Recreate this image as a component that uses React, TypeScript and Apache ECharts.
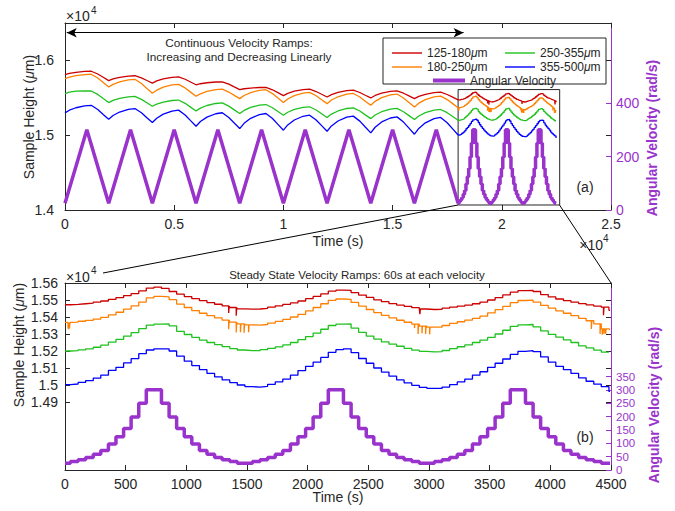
import React, { useEffect, useRef } from "react";
import * as echarts from "echarts";

const FONT = "'Liberation Sans', Arial, Helvetica, sans-serif";
const PURPLE = "#9933cc";
const RED = "#cc0000";
const ORANGE = "#ff8000";
const GREEN = "#1fc21f";
const BLUE = "#0000ff";
const INK = "#262626";

// ---------- (a) continuous ramps, time in s (axis shows x10^4) ----------
const TOP_T = [
  0, 200, 500, 900, 1200, 1500, 1750,
  2000, 2200, 2500, 2900, 3200, 3500, 3750,
  4000, 4200, 4500, 4900, 5200, 5500, 5750,
  6000, 6200, 6500, 6900, 7200, 7500, 7750,
  8000, 8200, 8500, 8900, 9200, 9500, 9750,
  10000, 10200, 10500, 10900, 11200, 11500, 11750,
  12000, 12200, 12500, 12900, 13200, 13500, 13750,
  14000, 14200, 14500, 14900, 15200, 15500, 15750,
  16000, 16200, 16500, 16900, 17200, 17500, 17750,
  18000,
];
const TOP_RED = [
  1.581, 1.5826, 1.5841, 1.5852, 1.5855, 1.5818, 1.5774,
  1.573, 1.5753, 1.5774, 1.579, 1.5795, 1.5766, 1.5731,
  1.5697, 1.5726, 1.5753, 1.5774, 1.578, 1.5748, 1.5711,
  1.5674, 1.5688, 1.5701, 1.5711, 1.5714, 1.5683, 1.5646,
  1.561, 1.5621, 1.563, 1.5638, 1.564, 1.5607, 1.5569,
  1.553, 1.556, 1.5588, 1.5609, 1.5615, 1.5584, 1.5547,
  1.5511, 1.5543, 1.5573, 1.5596, 1.5602, 1.5571, 1.5534,
  1.5498, 1.5531, 1.5562, 1.5585, 1.5592, 1.5561, 1.5525,
  1.5489, 1.5519, 1.5547, 1.5569, 1.5575, 1.5544, 1.5508,
  1.5472,
];
const TOP_ORANGE = [
  1.5756, 1.5777, 1.5796, 1.5811, 1.5815, 1.5764, 1.5704,
  1.5644, 1.568, 1.5714, 1.574, 1.5747, 1.5691, 1.5625,
  1.556, 1.5602, 1.5642, 1.5672, 1.568, 1.5632, 1.5576,
  1.552, 1.5553, 1.5585, 1.5608, 1.5615, 1.5577, 1.5533,
  1.5489, 1.5531, 1.557, 1.56, 1.5608, 1.5556, 1.5496,
  1.5436, 1.5484, 1.5528, 1.5562, 1.5572, 1.5527, 1.5475,
  1.5422, 1.547, 1.5514, 1.5548, 1.5558, 1.5511, 1.5455,
  1.54, 1.5453, 1.5502, 1.554, 1.555, 1.5498, 1.5438,
  1.5378, 1.5428, 1.5476, 1.5512, 1.5522, 1.5476, 1.5422,
  1.5368,
];
const TOP_GREEN = [
  1.5556, 1.5575, 1.5589, 1.5591, 1.5591, 1.5545, 1.549,
  1.5436, 1.5465, 1.5492, 1.5512, 1.5518, 1.5479, 1.5433,
  1.5387, 1.5416, 1.5443, 1.5464, 1.547, 1.5426, 1.5375,
  1.5324, 1.5362, 1.5397, 1.5424, 1.5432, 1.5389, 1.5339,
  1.5289, 1.5331, 1.5371, 1.5402, 1.541, 1.5367, 1.5317,
  1.5267, 1.5307, 1.5344, 1.5372, 1.538, 1.5337, 1.5286,
  1.5236, 1.5282, 1.5324, 1.5357, 1.5366, 1.5323, 1.5272,
  1.5222, 1.527, 1.5314, 1.5348, 1.5358, 1.5314, 1.5262,
  1.521, 1.5257, 1.5301, 1.5335, 1.5344, 1.5301, 1.525,
  1.52,
];
const TOP_BLUE = [
  1.5298, 1.5334, 1.5367, 1.5393, 1.54, 1.5344, 1.5278,
  1.5213, 1.5263, 1.531, 1.5346, 1.5356, 1.53, 1.5234,
  1.5169, 1.5227, 1.5282, 1.5323, 1.5335, 1.5271, 1.5195,
  1.512, 1.5183, 1.5242, 1.5287, 1.53, 1.5237, 1.5163,
  1.5089, 1.5159, 1.5226, 1.5276, 1.529, 1.5223, 1.5145,
  1.5067, 1.5137, 1.5203, 1.5253, 1.5267, 1.5203, 1.5128,
  1.5053, 1.5124, 1.519, 1.5241, 1.5255, 1.5188, 1.5109,
  1.5031, 1.5106, 1.5177, 1.523, 1.5245, 1.5175, 1.5094,
  1.5013, 1.5091, 1.5165, 1.5221, 1.5237, 1.5167, 1.5084,
  1.5002,
];
const TOP_VEL_T = [0, 1000, 2000, 3000, 4000, 5000, 6000, 7000, 8000, 9000, 10000, 11000, 12000, 13000, 14000, 15000, 16000, 17000, 18000];
const TOP_VEL = [25, 300, 25, 300, 25, 300, 25, 300, 25, 300, 25, 300, 25, 300, 25, 300, 25, 300, 25];

// ---------- (b) steady state ramps: step start times (s) ----------
const STEADY_OFFSET = 18000; // where (b) sits inside (a)
const STEP_END = 4492;
const STEP_T = [
  0, 45, 108, 170, 233, 295, 358, 420, 483, 545, 608, 670, 733, 795, 858, 920, 983, 1045, 1108, 1170, 1233, 1295, 1358, 1420, 1483,
  1545, 1608, 1670, 1733, 1795, 1858, 1920, 1983, 2045, 2108, 2170, 2233, 2295, 2358, 2420, 2483, 2545, 2608, 2670, 2733, 2795, 2858, 2920, 2983,
  3045, 3108, 3170, 3233, 3295, 3358, 3420, 3483, 3545, 3608, 3670, 3733, 3795, 3858, 3920, 3983, 4045, 4108, 4170, 4233, 4295, 4358, 4420, 4483,
];
const VEL = [
  25, 32, 38, 47, 59, 73, 97, 124, 155, 198, 250, 300, 300, 250, 198, 155, 124, 97, 73, 59, 47, 38, 32, 25, 25,
  32, 38, 47, 59, 73, 97, 124, 155, 198, 250, 300, 300, 250, 198, 155, 124, 97, 73, 59, 47, 38, 32, 25, 25,
  32, 38, 47, 59, 73, 97, 124, 155, 198, 250, 300, 300, 250, 198, 155, 124, 97, 73, 59, 47, 38, 32, 25, 25,
];
const H_RED = [
  1.5472, 1.5474, 1.5478, 1.5482, 1.5488, 1.5494, 1.5504, 1.5514, 1.5526, 1.5538, 1.5554, 1.557, 1.5576, 1.5568, 1.555, 1.5534, 1.552, 1.5508, 1.5496, 1.5485, 1.5475, 1.5465, 1.5456, 1.5448, 1.5446,
  1.5447, 1.5451, 1.5458, 1.5466, 1.5474, 1.5483, 1.5494, 1.5508, 1.5521, 1.5536, 1.5552, 1.5558, 1.5557, 1.5543, 1.5529, 1.5515, 1.5501, 1.549, 1.5479, 1.547, 1.5463, 1.5455, 1.5447, 1.5444,
  1.5445, 1.5452, 1.5458, 1.5464, 1.547, 1.5478, 1.5488, 1.55, 1.5514, 1.553, 1.5546, 1.5555, 1.5556, 1.555, 1.5532, 1.5518, 1.5506, 1.5496, 1.5487, 1.5479, 1.5471, 1.5464, 1.5458, 1.5439,
];
const H_ORANGE = [
  1.5368, 1.537, 1.5375, 1.538, 1.5388, 1.5398, 1.5412, 1.5428, 1.5446, 1.5466, 1.5488, 1.5512, 1.5521, 1.5518, 1.5502, 1.5476, 1.5456, 1.5437, 1.5422, 1.5408, 1.5395, 1.5382, 1.537, 1.536, 1.5354,
  1.5352, 1.5356, 1.5364, 1.5374, 1.5386, 1.54, 1.5416, 1.5436, 1.5456, 1.5478, 1.5498, 1.5506, 1.5504, 1.5486, 1.5464, 1.5444, 1.5426, 1.541, 1.5395, 1.5381, 1.5369, 1.5358, 1.5346, 1.534,
  1.534, 1.535, 1.5362, 1.5372, 1.5382, 1.5392, 1.5405, 1.5424, 1.5443, 1.5462, 1.5484, 1.5497, 1.5499, 1.5488, 1.5468, 1.5452, 1.5436, 1.5422, 1.5408, 1.5392, 1.5378, 1.536, 1.533, 1.5326,
];
const H_GREEN = [
  1.52, 1.5202, 1.5207, 1.5213, 1.5222, 1.5234, 1.5252, 1.5268, 1.5288, 1.5308, 1.5332, 1.5352, 1.5358, 1.5359, 1.5348, 1.5316, 1.5297, 1.528, 1.5264, 1.525, 1.5238, 1.5226, 1.5214, 1.5206, 1.5202,
  1.5203, 1.5208, 1.5215, 1.5224, 1.5236, 1.525, 1.5267, 1.5285, 1.5305, 1.5328, 1.535, 1.5358, 1.5359, 1.5335, 1.531, 1.5288, 1.527, 1.5254, 1.524, 1.5228, 1.5215, 1.5205, 1.5198, 1.5195,
  1.5196, 1.5203, 1.5214, 1.5225, 1.5236, 1.525, 1.5264, 1.528, 1.53, 1.5322, 1.5345, 1.5354, 1.5356, 1.5342, 1.5318, 1.5298, 1.5282, 1.5265, 1.525, 1.523, 1.5218, 1.5205, 1.5193, null,
];
const H_BLUE = [
  1.5002, 1.5006, 1.5015, 1.5026, 1.5041, 1.5058, 1.5086, 1.5104, 1.513, 1.5155, 1.5184, 1.5206, 1.5213, 1.5213, 1.52, 1.517, 1.514, 1.5114, 1.509, 1.5068, 1.5048, 1.503, 1.5014, 1.5, 1.499,
  1.4988, 1.4992, 1.5004, 1.5018, 1.5035, 1.5058, 1.5085, 1.511, 1.5134, 1.5162, 1.5192, 1.5208, 1.5213, 1.519, 1.5156, 1.5128, 1.51, 1.5076, 1.5052, 1.503, 1.5012, 1.4998, 1.4986, 1.498,
  1.498, 1.4988, 1.5002, 1.5018, 1.5035, 1.5058, 1.5078, 1.5104, 1.5128, 1.5153, 1.518, 1.5198, 1.5202, 1.5196, 1.5165, 1.5135, 1.511, 1.509, 1.5068, 1.5042, 1.5022, 1.5005, 1.499, 1.4962,
];
// short downward spikes: [time, value]
const RED_SPIKES = [[1349, 1.5424], [1411, 1.5408], [2925, 1.5417], [4438, 1.541]];
const ORANGE_SPIKES = [
  [25, 1.5332], [31, 1.5328], [37, 1.5334], [1349, 1.5328], [1411, 1.5309], [1446, 1.531], [1476, 1.5308], [1513, 1.5311],
  [2880, 1.5335], [2910, 1.53], [2942, 1.5305], [2972, 1.53], [3005, 1.5298],
  [4338, 1.533], [4410, 1.53], [4428, 1.5296], [4442, 1.53], [4456, 1.5302],
];

const NAMES = ["125-180μm", "180-250μm", "250-355μm", "355-500μm"];
const X_TICK_TOP = [0, 0.5, 1, 1.5, 2, 2.5];

function stepData(offset: number, values: (number | null)[], spikes: number[][]) {
  const pts: any[] = STEP_T.map((t, i) => [offset + t, values[i]]);
  const last = values[values.length - 1];
  if (last !== null) pts.push([offset + STEP_END, last]);
  for (const [ts, vs] of spikes) {
    let k = 0;
    while (k + 1 < STEP_T.length && STEP_T[k + 1] <= ts) k++;
    pts.push([offset + ts, vs], [offset + ts + 4, values[k]]);
  }
  pts.sort((a, b) => a[0] - b[0]);
  return pts;
}
const pairs = (xs: number[], ys: number[]) => xs.map((x, i) => [x, ys[i]]);

const tickLabel = { fontSize: 14, color: INK, fontFamily: FONT, hideOverlap: false, showMinLabel: true, showMaxLabel: true };

function txt(text: string, x: number, y: number, extra: any = {}, rotation = 0) {
  return {
    type: "text", x, y, rotation, silent: true, z: 10,
    style: { text, fontSize: 14, fontFamily: FONT, fill: INK, align: "center", verticalAlign: "middle", ...extra },
  };
}
const italicRich = (size: number, fill: string) => ({ i: { fontStyle: "italic", fontSize: size, fontFamily: FONT, fill } });

export default function App() {
  const ref = useRef<HTMLDivElement>(null);
  useEffect(() => {
    if (!ref.current) return;
    const chart = echarts.init(ref.current, null, { renderer: "svg" });
    const heightColors = [RED, ORANGE, GREEN, BLUE];
    const topHeights = [TOP_RED, TOP_ORANGE, TOP_GREEN, TOP_BLUE];
    const botHeights = [H_RED, H_ORANGE, H_GREEN, H_BLUE];
    const spikes = [RED_SPIKES, ORANGE_SPIKES, [], []];

    const series: any[] = [];
    heightColors.forEach((c, k) => {
      const base = {
        name: NAMES[k], type: "line", symbol: "none", color: c,
        lineStyle: { width: 1.3, color: c }, silent: true,
      };
      const first: any = { ...base, xAxisIndex: 0, yAxisIndex: 0, data: pairs(TOP_T, topHeights[k]) };
      if (k === 0) {
        first.markArea = {
          silent: true,
          itemStyle: { color: "rgba(0,0,0,0)", borderColor: INK, borderWidth: 1 },
          data: [[{ coord: [STEADY_OFFSET, 1.561] }, { coord: [22650, 1.4067] }]],
        };
        first.markLine = {
          silent: true, symbol: ["arrow", "arrow"], symbolSize: [7, 10],
          lineStyle: { color: "#000", width: 1, type: "solid" }, label: { show: false },
          data: [[{ coord: [80, 1.637] }, { coord: [18250, 1.637] }]],
        };
      }
      series.push(first);
      series.push({ ...base, xAxisIndex: 0, yAxisIndex: 0, step: "end", data: stepData(STEADY_OFFSET, botHeights[k], spikes[k]) });
      series.push({ ...base, xAxisIndex: 2, yAxisIndex: 3, step: "end", data: stepData(0, botHeights[k], spikes[k]) });
    });
    const velBase = { name: "Angular Velocity", type: "line", symbol: "none", color: PURPLE, lineStyle: { width: 3.5, color: PURPLE }, silent: true };
    series.push({ ...velBase, xAxisIndex: 0, yAxisIndex: 1, data: pairs(TOP_VEL_T, TOP_VEL) });
    series.push({ ...velBase, xAxisIndex: 0, yAxisIndex: 1, step: "end", data: stepData(STEADY_OFFSET, VEL, []) });
    series.push({ ...velBase, xAxisIndex: 2, yAxisIndex: 4, step: "end", data: stepData(0, VEL, []) });

    const legendDefs = [
      { name: NAMES[0], left: 392, top: 47, w: 30, h: 1.4 },
      { name: NAMES[2], left: 505, top: 47, w: 30, h: 1.4 },
      { name: NAMES[1], left: 392, top: 61, w: 30, h: 1.4 },
      { name: NAMES[3], left: 505, top: 61, w: 30, h: 1.4 },
      { name: "Angular Velocity", left: 433, top: 74.5, w: 32, h: 4 },
    ];
    const legend = legendDefs.map((l) => ({
      data: [l.name], left: l.left, top: l.top, padding: 0, itemWidth: l.w, itemHeight: l.h, itemGap: 0,
      icon: "rect", selectedMode: false, z: 6,
      textStyle: { fontSize: 12, lineHeight: 11, color: INK, fontFamily: FONT, rich: { i: { fontStyle: "italic", fontSize: 12, lineHeight: 11, fontFamily: FONT, color: INK } } },
      formatter: (n: string) => n.replace("μ", "{i|μ}"),
    }));

    const xCommon = (grid: number, min: number, max: number, interval: number) => ({
      type: "value", gridIndex: grid, min, max, interval,
      axisLine: { onZero: false, lineStyle: { color: INK, width: 1 } },
      axisTick: { inside: true, length: 5, lineStyle: { color: INK } },
      splitLine: { show: false },
    });
    const yMirror = (grid: number, min: number, max: number, ticks: number[]) => ({
      type: "value", gridIndex: grid, position: "right", min, max,
      axisLine: { show: false, onZero: false },
      axisTick: { show: true, inside: true, length: 5, customValues: ticks, lineStyle: { color: INK } },
      axisLabel: { show: false }, splitLine: { show: false },
    });
    const yPurple = (grid: number, ticks: number[], size: number, lh: number) => ({
      type: "value", gridIndex: grid, position: "right", min: 0, max: 700,
      axisLine: { show: true, onZero: false, lineStyle: { color: PURPLE, width: 1 } },
      axisTick: { show: true, inside: true, length: 5, customValues: ticks, lineStyle: { color: PURPLE } },
      axisLabel: { ...tickLabel, fontSize: size, lineHeight: lh, color: PURPLE, margin: 5, customValues: ticks },
      splitLine: { show: false },
    });
    const yLeft = (grid: number, min: number, max: number, ticks: number[], margin: number, dec: number) => ({
      type: "value", gridIndex: grid, position: "left", min, max,
      axisLine: { show: true, onZero: false, lineStyle: { color: INK, width: 1 } },
      axisTick: { show: true, inside: true, length: 5, customValues: ticks, lineStyle: { color: INK } },
      axisLabel: { ...tickLabel, lineHeight: 14, margin, customValues: ticks, formatter: (v: number) => String(parseFloat(v.toFixed(dec))) },
      splitLine: { show: false },
    });

    const B_TICKS = [1.49, 1.5, 1.51, 1.52, 1.53, 1.54, 1.55, 1.56];
    const option: any = {
      animation: false,
      backgroundColor: "#fff",
      textStyle: { fontFamily: FONT },
      grid: [
        { left: 65, width: 546, top: 23, height: 187, outerBoundsMode: "none" },
        { left: 65, width: 546, top: 283, height: 187, outerBoundsMode: "none" },
      ],
      legend,
      xAxis: [
        { ...xCommon(0, 0, 25000, 5000), position: "bottom", axisLabel: { ...tickLabel, margin: 7, formatter: (v: number) => String(X_TICK_TOP[Math.round(v / 5000)]) } },
        { ...xCommon(0, 0, 25000, 5000), position: "top", axisLabel: { show: false } },
        { ...xCommon(1, 0, 4500, 500), position: "bottom", axisLabel: { ...tickLabel, margin: 7, formatter: (v: number) => String(v) } },
        { ...xCommon(1, 0, 4500, 500), position: "top", axisLabel: { show: false } },
      ],
      yAxis: [
        yLeft(0, 1.4, 1.65, [1.4, 1.5, 1.6], 11, 1),
        yPurple(0, [0, 200, 400], 14, 14),
        yMirror(0, 1.4, 1.65, [1.5, 1.6]),
        yLeft(1, 1.45, 1.56, B_TICKS, 7, 2),
        yPurple(1, [0, 50, 100, 150, 200, 250, 300, 350], 11.5, 11),
        yMirror(1, 1.45, 1.56, B_TICKS),
      ],
      series,
      graphic: [
        { type: "rect", z: 3, silent: true, shape: { x: 383, y: 38, width: 223, height: 46 }, style: { fill: "#fff", stroke: INK, lineWidth: 1 } },
        txt("Continuous Velocity Ramps:", 239, 43, { fontSize: 11.8 }),
        txt("Increasing and Decreasing Linearly", 239, 57, { fontSize: 11.8 }),
        txt("Steady State Velocity Ramps: 60s at each velocity", 357, 275, { fontSize: 11.5 }),
        txt("(a)", 585, 187),
        txt("(b)", 585, 437),
        txt("Time (s)", 338, 241),
        txt("Time (s)", 338, 497),
        txt("Sample Height ({i|μ}m)", 29, 117, { rich: italicRich(14, INK) }, Math.PI / 2),
        txt("Sample Height ({i|μ}m)", 19, 345, { rich: italicRich(14, INK) }, Math.PI / 2),
        txt("Angular Velocity (rad/s)", 652, 138, { fill: PURPLE, fontWeight: "bold" }, Math.PI / 2),
        txt("Angular Velocity (rad/s)", 654, 405, { fill: PURPLE, fontWeight: "bold" }, Math.PI / 2),
        txt("×10", 66, 16, { align: "left" }),
        txt("4", 91, 10, { align: "left", fontSize: 10 }),
        txt("×10", 66, 277, { align: "left" }),
        txt("4", 91, 270, { align: "left", fontSize: 10 }),
        txt("×10", 603, 245, { align: "right" }),
        txt("4", 603, 238, { align: "left", fontSize: 10 }),
        { type: "line", silent: true, z: 9, shape: { x1: 458, y1: 205, x2: 103, y2: 273 }, style: { stroke: "#000", lineWidth: 1 } },
        { type: "line", silent: true, z: 9, shape: { x1: 559.5, y1: 205, x2: 611, y2: 283 }, style: { stroke: "#000", lineWidth: 1 } },
      ],
    };
    chart.setOption(option);
    return () => chart.dispose();
  }, []);
  return <div ref={ref} style={{ position: "absolute", left: 0, top: 0, width: 675, height: 511 }} />;
}
